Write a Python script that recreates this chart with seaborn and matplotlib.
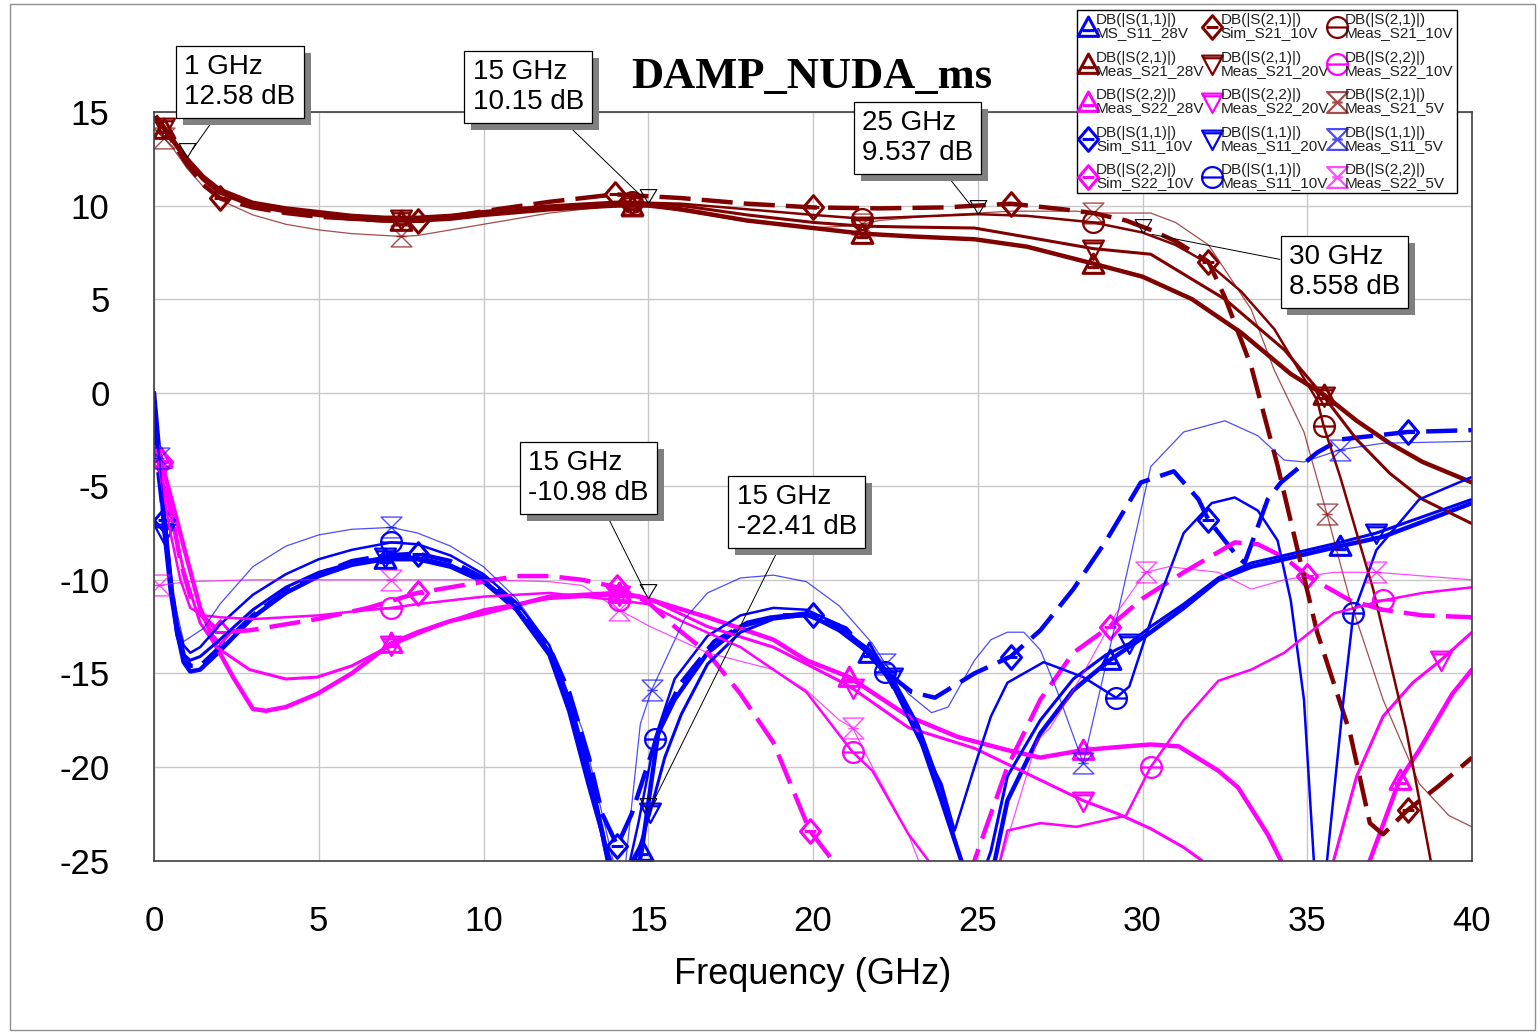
import numpy as np
import seaborn as sns
import matplotlib
matplotlib.use('Agg')
import matplotlib.pyplot as plt
import matplotlib.patheffects as pe
from matplotlib.path import Path
from matplotlib.lines import Line2D
from matplotlib.patches import Rectangle

# ---- data (GHz, dB) ----

# S11 traces
f_s11_28v = [0.0, 0.15, 0.3, 0.5, 0.7, 0.9, 1.1, 1.4, 2.0, 3.0, 4.0, 5.0, 6.0, 7.0, 8.0, 9.0, 10.0, 11.0, 12.0, 12.6,
             13.2, 13.6, 14.0, 14.5, 14.8, 15.3, 15.8, 16.8, 17.8, 18.8, 19.8, 20.8, 21.7, 22.4, 23.2, 23.9, 24.5,
             25.0, 25.4, 25.9, 26.9, 27.9, 29.0, 30.25, 31.25, 32.3, 33.3, 34.3, 36.0, 37.3, 40.0]
db_s11_28v = [0.0, -3.0, -6.5, -10.0, -12.8, -14.4, -14.9, -14.8, -13.8, -12.0, -10.7, -9.8, -9.2, -8.9, -8.9, -9.3,
              -10.1, -11.6, -14.0, -17.0, -21.0, -23.5, -27.0, -27.0, -24.5, -18.2, -16.4, -13.9, -12.5, -12.0, -11.8,
              -12.7, -13.9, -15.5, -18.2, -21.8, -25.0, -27.0, -26.0, -21.8, -18.2, -15.9, -14.3, -12.8, -11.5, -10.0,
              -9.3, -8.9, -8.2, -7.7, -5.9]

f_s11_20v = [0.0, 0.15, 0.3, 0.5, 0.7, 0.9, 1.1, 1.4, 2.0, 3.0, 4.0, 5.0, 6.0, 7.0, 8.0, 9.0, 10.0, 11.0, 12.0, 12.6,
             13.2, 13.7, 14.2, 14.7, 15.06, 15.5, 16.0, 16.8, 17.8, 18.8, 19.8, 20.8, 21.7, 22.4, 23.2, 23.9, 24.4,
             24.9, 25.4, 25.9, 26.9, 27.9, 28.9, 29.6, 30.25, 31.25, 32.3, 33.3, 34.3, 36.0, 37.1, 40.0]
db_s11_20v = [-1.0, -4.0, -7.5, -10.8, -13.0, -14.0, -14.3, -14.1, -13.2, -11.6, -10.4, -9.6, -9.1, -8.8, -8.8, -9.2,
              -10.0, -11.5, -13.8, -16.5, -20.5, -24.5, -27.0, -24.5, -22.4, -19.5, -17.2, -14.5, -12.8, -12.1, -11.9,
              -12.6, -13.7, -15.2, -17.8, -21.2, -24.5, -27.0, -24.5, -20.5, -17.5, -15.3, -14.0, -13.4, -12.5, -11.3,
              -9.9, -9.1, -8.7, -8.0, -7.5, -5.7]

f_s11_10v = [0.0, 0.15, 0.3, 0.5, 0.7, 0.9, 1.1, 1.4, 2.0, 3.0, 4.0, 5.0, 6.0, 7.2, 8.0, 9.0, 10.0, 11.0, 12.0, 12.6,
             13.2, 13.7, 14.2, 14.7, 15.2, 15.8, 16.8, 17.8, 18.8, 19.8, 20.8, 21.7, 22.2, 23.2, 23.9, 24.3, 24.9,
             25.4, 25.9, 27.0, 28.2, 29.2, 29.6, 30.25, 31.25, 32.1, 32.8, 33.5, 34.1, 34.5, 34.9, 35.2, 35.4, 35.6,
             36.1, 36.4, 37.1, 38.4, 40.0]
db_s11_10v = [-0.5, -3.5, -7.0, -10.2, -12.3, -13.5, -13.9, -13.6, -12.4, -10.8, -9.7, -8.9, -8.4, -8.0, -8.1, -8.7,
              -9.7, -11.2, -13.5, -16.3, -20.0, -24.0, -27.0, -23.0, -18.5, -15.3, -13.0, -11.9, -11.5, -11.6, -12.4,
              -13.8, -14.9, -18.5, -20.9, -23.4, -20.0, -17.3, -15.5, -14.4, -15.2, -16.3, -15.7, -12.2, -7.5, -5.9,
              -5.6, -6.3, -7.9, -11.1, -16.4, -25.0, -27.0, -25.0, -16.4, -11.8, -8.4, -5.7, -4.5]

f_s11_sim = [0.0, 0.15, 0.3, 0.5, 0.7, 0.9, 1.1, 1.4, 2.0, 3.0, 4.0, 5.0, 6.0, 7.0, 8.0, 9.0, 10.0, 11.0, 12.0, 12.6,
             13.2, 13.6, 14.06, 14.5, 15.0, 15.5, 16.0, 17.0, 18.0, 19.0, 20.0, 21.0, 22.05, 23.0, 23.7, 24.9, 26.0,
             26.9, 27.9, 28.9, 29.95, 30.95, 31.7, 32.0, 32.9, 33.1, 33.8, 34.2, 35.3, 36.0, 38.05, 40.0]
db_s11_sim = [-2.0, -4.5, -6.8, -10.0, -12.5, -14.0, -14.6, -14.6, -13.6, -11.9, -10.6, -9.7, -9.0, -8.7, -8.6, -9.0,
              -9.9, -11.4, -13.6, -16.0, -19.5, -22.5, -24.2, -22.5, -19.8, -17.2, -15.5, -13.3, -12.3, -11.9, -11.9,
              -12.6, -14.7, -16.0, -16.3, -15.0, -14.1, -12.7, -10.5, -7.9, -4.8, -4.2, -5.7, -6.8, -8.8, -9.1, -5.7,
              -4.8, -3.2, -2.5, -2.1, -2.0]

f_s11_5v = [0.0, 0.15, 0.3, 0.6, 0.9, 1.5, 2.0, 3.0, 4.0, 5.0, 6.0, 7.2, 8.0, 9.0, 10.0, 11.0, 12.0, 13.0, 13.6, 14.2,
            14.76, 15.1, 16.1, 16.8, 17.8, 18.8, 19.8, 20.8, 21.8, 22.2, 22.9, 23.6, 24.1, 24.9, 25.4, 25.9, 26.4,
            26.9, 27.4, 28.2, 29.25, 30.25, 31.25, 32.5, 33.5, 34.3, 34.9, 36.0, 37.3, 40.0]
db_s11_5v = [-1.0, -3.5, -6.0, -11.0, -13.3, -12.6, -11.3, -9.3, -8.2, -7.6, -7.3, -7.2, -7.5, -8.2, -9.3, -11.0,
             -13.5, -18.0, -22.5, -27.0, -17.7, -15.9, -12.1, -10.7, -9.9, -9.75, -10.1, -11.4, -13.4, -14.5, -16.1,
             -17.1, -16.8, -14.3, -13.2, -12.8, -12.8, -13.75, -15.9, -19.8, -11.8, -3.95, -2.1, -1.5, -2.3, -3.6,
             -3.7, -3.05, -2.7, -2.6]

# S21 traces
f_s21_28v = [0.05, 0.3, 0.6, 1.0, 1.5, 2.0, 3.0, 4.0, 5.0, 6.0, 7.0, 7.5, 8.0, 9.0, 10.0, 12.0, 14.0, 14.5, 15.0, 16.0,
             18.0, 20.0, 21.5, 23.0, 24.9, 26.5, 28.5, 30.0, 31.5, 33.0, 34.5, 35.5, 36.5, 37.5, 38.5, 40.0]
db_s21_28v = [14.6, 14.1, 13.4, 12.4, 11.4, 10.7, 10.0, 9.7, 9.5, 9.3, 9.2, 9.2, 9.2, 9.3, 9.5, 9.8, 10.0, 10.0, 10.0,
              9.8, 9.2, 8.8, 8.5, 8.35, 8.2, 7.8, 6.9, 6.2, 5.0, 3.2, 1.0, -0.1, -1.5, -2.7, -3.7, -4.8]

f_s21_20v = [0.05, 0.3, 0.6, 1.0, 1.5, 2.0, 3.0, 4.0, 5.0, 6.0, 7.0, 7.5, 8.0, 9.0, 10.0, 12.0, 14.0, 14.5, 15.0, 16.0,
             18.0, 20.0, 21.5, 23.0, 24.9, 27.2, 28.5, 30.25, 32.5, 34.3, 35.5, 36.5, 37.5, 38.5, 40.0]
db_s21_20v = [14.7, 14.2, 13.5, 12.5, 11.5, 10.8, 10.1, 9.8, 9.6, 9.4, 9.3, 9.3, 9.3, 9.4, 9.6, 9.9, 10.1, 10.1, 10.1,
              10.0, 9.5, 9.1, 8.9, 8.85, 8.8, 8.1, 7.7, 7.4, 5.0, 2.3, -0.2, -2.5, -4.3, -5.7, -7.0]

f_s21_10v = [0.05, 0.3, 0.6, 1.0, 1.5, 2.0, 3.0, 4.0, 5.0, 6.0, 7.0, 7.5, 8.0, 9.0, 10.0, 12.0, 14.0, 14.5, 15.0, 16.0,
             18.0, 20.0, 21.5, 23.0, 25.0, 26.5, 28.5, 30.0, 31.0, 32.0, 33.0, 34.0, 35.3, 35.5, 36.0, 37.0, 38.0, 38.8]
db_s21_10v = [14.7, 14.2, 13.5, 12.58, 11.6, 10.9, 10.2, 9.9, 9.7, 9.5, 9.4, 9.4, 9.4, 9.5, 9.7, 10.0, 10.2, 10.2, 10.15,
              10.1, 9.8, 9.5, 9.3, 9.4, 9.54, 9.45, 9.1, 8.56, 7.9, 6.9, 5.4, 3.4, -0.4, -1.8, -4.5, -10.5, -18.0, -25.5]

f_s21_sim = [0.05, 0.3, 0.6, 1.0, 1.5, 2.0, 3.0, 4.0, 5.0, 6.0, 7.0, 8.0, 9.0, 10.0, 12.0, 14.0, 15.0, 16.0, 18.0, 20.0,
             22.0, 24.0, 26.0, 27.6, 28.5, 29.5, 30.25, 31.0, 32.0, 32.5, 33.3, 34.1, 35.3, 36.3, 36.9, 37.3, 38.05,
             39.0, 40.0]
db_s21_sim = [14.8, 14.2, 13.3, 12.2, 11.1, 10.4, 9.9, 9.6, 9.4, 9.3, 9.2, 9.2, 9.4, 9.7, 10.2, 10.6, 10.5, 10.4, 10.1,
              9.9, 9.85, 9.9, 10.1, 9.8, 9.6, 9.2, 8.7, 8.1, 7.0, 5.1, 1.4, -3.9, -12.8, -18.2, -23.0, -23.6, -22.3,
              -21.0, -19.5]

f_s21_5v = [0.05, 0.3, 0.6, 1.0, 1.5, 2.0, 3.0, 4.0, 5.0, 6.0, 7.0, 7.5, 8.0, 9.0, 10.0, 12.0, 14.0, 14.5, 15.0, 16.0,
            17.8, 19.8, 21.0, 21.5, 22.0, 24.0, 26.0, 27.0, 28.0, 28.5, 30.25, 31.0, 32.0, 33.3, 34.0, 34.9, 35.6,
            36.3, 37.3, 38.4, 39.3, 40.0]
db_s21_5v = [14.0, 13.6, 13.0, 12.0, 11.0, 10.3, 9.5, 9.0, 8.7, 8.5, 8.4, 8.35, 8.4, 8.7, 9.0, 9.6, 10.0, 10.0, 10.0, 9.7,
             9.2, 8.8, 8.9, 9.0, 9.2, 9.5, 9.7, 9.7, 9.7, 9.6, 9.6, 9.1, 7.9, 4.45, 1.2, -2.1, -6.5, -11.1, -16.4,
             -20.9, -22.6, -23.2]

# S22 traces
f_s22_28v = [0.05, 0.2, 0.5, 0.9, 1.4, 1.9, 2.4, 3.0, 3.4, 4.0, 4.95, 6.0, 7.2, 8.0, 9.0, 10.0, 12.0, 14.1, 14.76, 16.8,
             18.8, 19.8, 21.1, 22.9, 24.4, 25.9, 26.9, 28.2, 29.5, 30.25, 31.1, 32.3, 32.9, 33.8, 34.2, 34.8, 36.3,
             36.9, 37.8, 38.4, 39.4, 40.0]
db_s22_28v = [-2.5, -3.5, -5.5, -8.2, -11.5, -13.6, -15.2, -16.9, -17.0, -16.8, -16.1, -15.0, -13.4, -12.8, -12.2,
              -11.8, -10.9, -10.7, -10.9, -12.0, -13.2, -14.3, -15.2, -17.3, -18.4, -19.1, -19.5, -19.1, -18.9, -18.8,
              -18.9, -20.2, -21.1, -23.6, -25.0, -27.0, -27.0, -25.0, -20.7, -19.1, -16.1, -14.8]

f_s22_20v = [0.05, 0.2, 0.5, 0.9, 1.4, 1.9, 2.9, 4.0, 4.95, 6.0, 7.2, 8.0, 9.0, 10.0, 12.0, 14.1, 15.0, 16.8, 18.8,
             20.8, 21.2, 22.9, 24.9, 26.9, 28.2, 29.25, 30.25, 31.25, 31.8, 32.5, 35.2, 35.8, 36.5, 37.3, 38.2,
             39.05, 40.0]
db_s22_20v = [-3.0, -4.2, -6.5, -9.5, -12.3, -13.6, -14.8, -15.3, -15.2, -14.6, -13.5, -12.9, -12.2, -11.6, -11.0,
              -10.8, -11.0, -12.5, -13.6, -15.4, -15.8, -17.9, -19.0, -20.7, -21.8, -22.5, -23.3, -24.3, -25.0,
              -27.0, -27.0, -25.0, -20.5, -17.3, -15.5, -14.3, -12.8]

f_s22_10v = [0.05, 0.2, 0.5, 0.8, 1.1, 1.5, 2.0, 3.0, 4.0, 5.0, 6.0, 7.2, 8.0, 10.0, 12.0, 14.1, 15.0, 16.0, 17.8, 19.8,
             21.2, 21.8, 22.9, 23.5, 24.0, 25.4, 25.9, 26.9, 28.0, 29.5, 30.25, 31.25, 32.3, 33.3, 34.3, 35.8, 37.3,
             38.5, 40.0]
db_s22_10v = [-3.0, -4.5, -7.5, -10.0, -11.5, -11.9, -12.0, -12.1, -12.0, -11.9, -11.7, -11.5, -11.3, -10.9, -10.7,
              -11.1, -11.3, -12.2, -13.6, -16.0, -19.2, -20.2, -23.6, -25.0, -27.0, -27.0, -23.4, -23.0, -23.2, -22.6,
              -20.0, -17.5, -15.4, -14.8, -13.9, -11.8, -11.1, -10.7, -10.4]

f_s22_sim = [0.05, 0.25, 0.5, 0.8, 1.2, 2.0, 2.9, 4.95, 6.5, 8.0, 10.0, 11.0, 12.0, 13.0, 14.06, 15.0, 15.8, 16.8, 17.8,
             18.8, 19.9, 20.6, 21.0, 24.5, 24.9, 25.9, 26.9, 27.9, 29.0, 30.0, 31.25, 32.8, 33.5, 34.3, 35.0, 36.3,
             37.3, 38.5, 40.0]
db_s22_sim = [-2.8, -3.7, -6.0, -9.0, -11.5, -12.8, -12.7, -12.1, -11.5, -10.7, -10.1, -9.8, -9.8, -10.0, -10.4, -11.2,
              -12.5, -13.9, -16.1, -18.7, -23.4, -25.0, -27.0, -27.0, -25.0, -20.0, -16.4, -13.9, -12.5, -11.0, -9.6,
              -8.0, -8.1, -8.8, -9.8, -11.1, -11.6, -11.9, -12.0]

f_s22_5v = [0.0, 0.15, 1.0, 3.0, 5.0, 7.2, 8.0, 10.0, 12.0, 13.0, 14.1, 15.06, 16.8, 18.8, 19.8, 20.8, 21.2, 21.8, 22.9,
            23.2, 23.5, 25.4, 25.7, 26.8, 27.2, 28.2, 29.2, 30.1, 30.8, 32.3, 33.3, 34.3, 35.8, 37.1, 40.0]
db_s22_5v = [-10.3, -10.3, -10.1, -10.0, -10.0, -10.0, -10.0, -10.0, -10.1, -10.3, -11.6, -12.5, -13.9, -14.8, -15.9,
             -17.5, -17.9, -20.0, -23.6, -25.0, -27.0, -27.0, -25.0, -18.6, -17.9, -15.0, -11.8, -9.6, -9.3, -9.6,
             -10.5, -10.0, -9.6, -9.6, -10.0]

# marker annotations: frequency, value
mark_f = [1, 15, 25, 30, 15, 15]
mark_db = [12.58, 10.15, 9.537, 8.558, -10.98, -22.41]
# where the readout boxes sit (data coords)
box_f = [2.61, 11.36, 23.17, 36.13, 13.18, 19.51]
box_db = [16.60, 16.34, 13.61, 6.45, -4.56, -6.38]


# ---- marker glyphs like the AWR ones ----
def glyph(parts):
    verts, codes = [], []
    for pts, closed in parts:
        verts += pts
        codes += [Path.MOVETO] + [Path.LINETO] * (len(pts) - 1)
        if closed:
            verts.append(pts[0])
            codes.append(Path.CLOSEPOLY)
    return Path(verts, codes)


TRI_UP = glyph([([(-1, -0.85), (1, -0.85), (0, 1)], True), ([(-0.55, -0.3), (0.55, -0.3)], False)])
TRI_DN = glyph([([(-1, 0.85), (1, 0.85), (0, -1)], True), ([(-0.8, 0.6), (0.8, 0.6)], False)])
DIAM = glyph([([(0, 1), (0.85, 0), (0, -1), (-0.85, 0)], True), ([(-0.5, 0), (0.5, 0)], False)])
circ = Path.unit_circle()
CIRC = Path.make_compound_path(circ, Path([(-1, 0), (1, 0)], [Path.MOVETO, Path.LINETO]))
HOUR = glyph([([(-1, 1), (1, 1), (-1, -1), (1, -1)], True), ([(-0.5, 0), (0.5, 0)], False)])
TIP = glyph([([(0, 0), (-0.9, 1.5), (0.9, 1.5)], True)])

DR, BL, MG = '#800000', '#0000FF', '#FF00FF'

# name, freq, dB, colour, width, glyph, dashed, thin, marker freqs
series = [
    ('DB(|S(1,1)|)\nMS_S11_28V', f_s11_28v, db_s11_28v, BL, 3.2, TRI_UP, False, False, [7.2, 14.8, 21.7, 29.0, 36.0]),
    ('DB(|S(2,1)|)\nMeas_S21_28V', f_s21_28v, db_s21_28v, DR, 3.2, TRI_UP, False, False, [0.3, 7.5, 14.5, 21.5, 28.5, 35.5]),
    ('DB(|S(2,2)|)\nMeas_S22_28V', f_s22_28v, db_s22_28v, MG, 3.2, TRI_UP, False, False, [0.2, 7.2, 14.1, 21.1, 28.2, 37.8]),
    ('DB(|S(1,1)|)\nSim_S11_10V', f_s11_sim, db_s11_sim, BL, 3.2, DIAM, True, False, [0.3, 8.0, 14.06, 20.0, 26.0, 32.0, 38.05]),
    ('DB(|S(2,2)|)\nSim_S22_10V', f_s22_sim, db_s22_sim, MG, 3.2, DIAM, True, False, [0.25, 2.0, 8.0, 14.06, 19.9, 29.0, 35.0]),
    ('DB(|S(2,1)|)\nSim_S21_10V', f_s21_sim, db_s21_sim, DR, 3.2, DIAM, True, False, [2.0, 8.0, 14.0, 20.0, 26.0, 32.0, 38.05]),
    ('DB(|S(2,1)|)\nMeas_S21_20V', f_s21_20v, db_s21_20v, DR, 2.2, TRI_DN, False, False, [0.3, 7.5, 14.5, 21.5, 28.5, 35.5]),
    ('DB(|S(2,2)|)\nMeas_S22_20V', f_s22_20v, db_s22_20v, MG, 2.2, TRI_DN, False, False, [7.2, 14.1, 21.2, 28.2, 39.05]),
    ('DB(|S(1,1)|)\nMeas_S11_20V', f_s11_20v, db_s11_20v, BL, 2.2, TRI_DN, False, False, [0.3, 7.0, 15.06, 22.4, 29.6, 37.1]),
    ('DB(|S(1,1)|)\nMeas_S11_10V', f_s11_10v, db_s11_10v, BL, 1.8, CIRC, False, False, [7.2, 15.2, 22.2, 29.2, 36.4]),
    ('DB(|S(2,1)|)\nMeas_S21_10V', f_s21_10v, db_s21_10v, DR, 1.8, CIRC, False, False, [14.5, 21.5, 28.5, 35.5]),
    ('DB(|S(2,2)|)\nMeas_S22_10V', f_s22_10v, db_s22_10v, MG, 1.8, CIRC, False, False, [7.2, 14.1, 21.2, 30.25, 37.3]),
    ('DB(|S(2,1)|)\nMeas_S21_5V', f_s21_5v, db_s21_5v, DR, 0.9, HOUR, False, True, [0.3, 7.5, 14.5, 21.5, 28.5, 35.6]),
    ('DB(|S(1,1)|)\nMeas_S11_5V', f_s11_5v, db_s11_5v, BL, 0.9, HOUR, False, True, [0.15, 7.2, 15.1, 22.2, 28.2, 36.0]),
    ('DB(|S(2,2)|)\nMeas_S22_5V', f_s22_5v, db_s22_5v, MG, 0.9, HOUR, False, True, [0.15, 7.2, 14.1, 21.2, 30.1, 37.1]),
]

sns.set_theme(style='white')
plt.rcParams['font.family'] = ['Liberation Sans', 'DejaVu Sans']
plt.rcParams['axes.unicode_minus'] = False

fig = plt.figure(figsize=(15.38, 10.32), dpi=100)
ax = fig.add_axes([154 / 1538, 1 - 860.5 / 1032, (1472 - 154) / 1538, (860.5 - 112) / 1032])

handles = []
for name, f, db, col, lw, mk, dashed, thin, mf in series:
    f = np.asarray(f)
    idx = sorted(set(int(np.argmin(np.abs(f - m))) for m in mf))
    alpha = 0.7 if thin else 1.0
    mew = 2.2 if lw > 3 else (1.6 if lw > 1 else 1.0)
    ms = 17 if mk is DIAM else 15
    sns.lineplot(x=f, y=db, ax=ax, color=col, linewidth=lw, alpha=alpha, sort=False, estimator=None,
                 marker=mk, markevery=idx, markersize=ms, markerfacecolor='none',
                 markeredgecolor=col, markeredgewidth=mew, legend=False)
    if dashed:
        ax.lines[-1].set_dashes((7, 2.5))
    handles.append(Line2D([], [], linestyle='none', marker=mk, markersize=ms, markerfacecolor='none',
                          markeredgecolor=col, markeredgewidth=max(mew, 1.6), alpha=alpha, label=name))

ax.set_xlim(0, 40)
ax.set_ylim(-25, 15)
ax.set_xticks(range(0, 41, 5))
ax.set_yticks(range(-25, 16, 5))
ax.grid(True, color='#c8c8c8', linewidth=1.0)
ax.tick_params(axis='both', length=0, labelsize=25, colors='black')
ax.tick_params(axis='x', pad=32)
ax.tick_params(axis='y', pad=32)
for s in ax.spines.values():
    s.set_color('#404040')
    s.set_linewidth(1.2)
ax.set_xlabel('Frequency (GHz)', fontsize=26, labelpad=14, color='black')

# readout markers with boxes
ax.plot(mark_f, mark_db, linestyle='none', marker=TIP, markersize=20, markerfacecolor='none',
        markeredgecolor='black', markeredgewidth=0.8, zorder=6)
for mfq, mv, bx, by in zip(mark_f, mark_db, box_f, box_db):
    ann = ax.annotate(f'{mfq:g} GHz\n{mv:.4g} dB', xy=(mfq, mv), xytext=(bx, by), textcoords='data',
                      ha='center', va='center', multialignment='left', fontsize=20, color='black',
                      annotation_clip=False, zorder=8,
                      bbox=dict(boxstyle='square,pad=0.3', fc='white', ec='black', lw=0.9),
                      arrowprops=dict(arrowstyle='-', color='black', lw=0.7, shrinkA=0, shrinkB=7))
    ann.get_bbox_patch().set_path_effects([pe.SimplePatchShadow(offset=(5, -5), shadow_rgbFace='#808080', alpha=1.0),
                                           pe.Normal()])

fig.text(812 / 1538, 1 - 88 / 1032, 'DAMP_NUDA_ms', ha='center', va='baseline', fontsize=32,
         fontweight='bold', family=['Liberation Serif', 'DejaVu Serif'], color='black')

leg = fig.legend(handles=handles, ncol=3, loc='upper left', bbox_to_anchor=(1077 / 1538, 1 - 10 / 1032),
                 fontsize=11, frameon=True, fancybox=False, framealpha=1, edgecolor='black',
                 borderpad=0.2, labelspacing=0.7, handlelength=1.0, handletextpad=0.05,
                 columnspacing=0.0, borderaxespad=0)
leg.get_frame().set_linewidth(1.0)
for t in leg.get_texts():
    t.set_linespacing(0.9)
    t.set_color('#202020')

fig.add_artist(Rectangle((10 / 1538, 2 / 1032), 1525 / 1538, 1026 / 1032, transform=fig.transFigure,
                         fill=False, edgecolor='#909090', linewidth=1.0))

fig.savefig('out.png', dpi=100)
